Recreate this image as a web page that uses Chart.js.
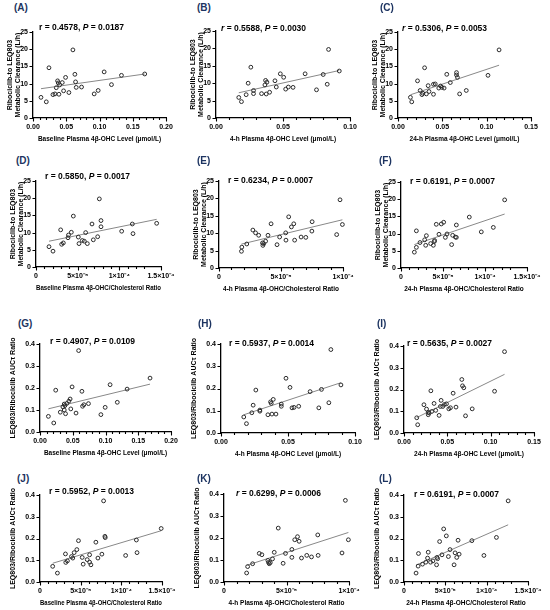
<!DOCTYPE html>
<html>
<head>
<meta charset="utf-8">
<script src="https://cdn.jsdelivr.net/npm/chart.js@4.4.0/dist/chart.umd.min.js"></script>
<style>
  body { margin: 0; background: #fff; width: 550px; height: 610px; position: relative; overflow: hidden; font-family: "Liberation Sans", Arial, sans-serif; }
  .tag { position: absolute; font-size: 10px; font-weight: bold; color: #1d3461; }
  canvas { position: absolute; }
</style>
</head>
<body>
<script>
// === Data ===
// Row 1: clearance vs plasma 4β-OHC level
const aX = [0.012, 0.020, 0.024, 0.030, 0.033, 0.035, 0.037, 0.038, 0.039, 0.040, 0.044, 0.046, 0.049, 0.054, 0.063, 0.064, 0.065, 0.060, 0.073, 0.092, 0.098, 0.107, 0.118, 0.133, 0.168];
const aY = [6.0, 4.7, 14.6, 6.8, 7.0, 8.8, 10.8, 10.2, 6.9, 9.6, 10.3, 7.9, 11.8, 7.4, 12.7, 10.5, 8.9, 19.8, 9.0, 7.0, 8.0, 13.4, 9.7, 12.4, 12.8];
const bX = [0.017, 0.019, 0.0225, 0.024, 0.026, 0.028, 0.028, 0.034, 0.0365, 0.037, 0.0375, 0.038, 0.040, 0.044, 0.045, 0.048, 0.0505, 0.052, 0.054, 0.0575, 0.0665, 0.075, 0.080, 0.083, 0.084, 0.092];
const bY = [5.9, 4.7, 6.7, 10.0, 14.6, 7.9, 7.0, 7.0, 9.5, 10.8, 6.9, 10.3, 7.4, 10.7, 8.9, 12.7, 11.7, 8.3, 8.9, 8.8, 12.7, 8.1, 12.5, 9.7, 19.7, 13.5];
const cX = [0.014, 0.0155, 0.022, 0.025, 0.027, 0.028, 0.030, 0.032, 0.034, 0.035, 0.040, 0.040, 0.042, 0.046, 0.048, 0.0495, 0.052, 0.055, 0.059, 0.066, 0.066, 0.067, 0.0695, 0.077, 0.1015, 0.114];
const cY = [6.0, 4.7, 10.8, 8.0, 6.8, 7.2, 14.6, 7.0, 9.4, 7.7, 6.9, 9.8, 9.9, 8.7, 9.3, 8.9, 8.7, 12.7, 10.3, 13.2, 12.5, 11.8, 7.0, 8.0, 12.4, 19.8];
// Row 2: clearance vs 4β-OHC/cholesterol ratio
const dX = [1.56e-5, 2.04e-5, 2.96e-5, 3.08e-5, 3.28e-5, 3.84e-5, 3.9e-5, 4.24e-5, 4.48e-5, 5.08e-5, 5.16e-5, 5.56e-5, 5.8e-5, 5.96e-5, 6.16e-5, 6.72e-5, 6.88e-5, 7.4e-5, 7.6e-5, 7.8e-5, 7.8e-5, 10.28e-5, 11.56e-5, 11.64e-5, 14.48e-5];
const dY = [5.9, 4.6, 10.8, 6.6, 7.0, 8.5, 9.3, 10.1, 14.8, 8.7, 6.8, 7.7, 7.5, 10.0, 6.8, 12.5, 7.9, 8.8, 19.8, 13.5, 11.7, 10.4, 12.5, 9.7, 12.7];
const eX = [1.81e-5, 1.84e-5, 2.24e-5, 2.73e-5, 2.95e-5, 3.2e-5, 3.51e-5, 3.54e-5, 3.6e-5, 3.76e-5, 3.95e-5, 4.2e-5, 4.68e-5, 4.89e-5, 5.38e-5, 5.4e-5, 5.62e-5, 5.84e-5, 6.03e-5, 6.1e-5, 6.62e-5, 7.0e-5, 7.49e-5, 7.51e-5, 9.49e-5, 9.76e-5, 9.95e-5];
const eY = [4.8, 6.0, 6.9, 10.9, 10.1, 9.4, 7.2, 6.5, 7.0, 7.7, 9.4, 12.7, 6.7, 8.9, 10.1, 8.0, 14.7, 11.8, 12.7, 8.0, 8.9, 8.8, 10.6, 13.3, 9.6, 19.6, 12.5];
const fX = [1.59e-5, 1.83e-5, 1.83e-5, 2.26e-5, 2.82e-5, 2.94e-5, 3.02e-5, 3.53e-5, 3.85e-5, 3.97e-5, 4.0e-5, 4.2e-5, 4.52e-5, 4.8e-5, 5.08e-5, 5.28e-5, 5.48e-5, 6.15e-5, 6.03e-5, 6.47e-5, 6.59e-5, 6.59e-5, 8.13e-5, 9.56e-5, 10.99e-5, 12.34e-5];
const fY = [4.6, 6.0, 10.8, 7.4, 8.2, 6.6, 9.4, 7.1, 6.6, 7.7, 8.0, 12.7, 9.8, 12.8, 13.3, 8.9, 9.9, 9.5, 6.8, 9.0, 8.9, 12.5, 14.8, 10.5, 11.8, 19.8];
// Row 3: AUC ratio vs plasma 4β-OHC level
const gX = [0.0128, 0.021, 0.024, 0.031, 0.035, 0.037, 0.037, 0.038, 0.039, 0.041, 0.044, 0.046, 0.047, 0.049, 0.055, 0.064, 0.065, 0.067, 0.059, 0.074, 0.093, 0.0995, 0.107, 0.118, 0.133, 0.168];
const gY = [0.071, 0.041, 0.19, 0.09, 0.114, 0.10, 0.127, 0.12, 0.083, 0.13, 0.14, 0.15, 0.105, 0.205, 0.086, 0.185, 0.117, 0.124, 0.37, 0.129, 0.079, 0.112, 0.215, 0.135, 0.195, 0.245];
const hX = [0.017, 0.019, 0.023, 0.024, 0.026, 0.029, 0.029, 0.035, 0.037, 0.0375, 0.038, 0.039, 0.041, 0.045, 0.045, 0.0485, 0.0515, 0.053, 0.0545, 0.058, 0.0665, 0.073, 0.075, 0.0805, 0.082, 0.0895];
const hY = [0.072, 0.042, 0.091, 0.125, 0.193, 0.098, 0.103, 0.082, 0.14, 0.133, 0.085, 0.151, 0.085, 0.12, 0.13, 0.246, 0.205, 0.113, 0.115, 0.12, 0.186, 0.113, 0.196, 0.136, 0.375, 0.216];
const iX = [0.0147, 0.0158, 0.023, 0.026, 0.028, 0.028, 0.029, 0.031, 0.032, 0.0347, 0.0366, 0.0405, 0.042, 0.0428, 0.0447, 0.0467, 0.049, 0.0517, 0.0536, 0.0567, 0.060, 0.0667, 0.0675, 0.069, 0.071, 0.0787, 0.1045, 0.116];
const iY = [0.070, 0.038, 0.13, 0.11, 0.084, 0.095, 0.092, 0.194, 0.099, 0.136, 0.104, 0.081, 0.122, 0.15, 0.122, 0.131, 0.134, 0.111, 0.116, 0.183, 0.119, 0.246, 0.217, 0.208, 0.079, 0.111, 0.192, 0.374];
// Row 4: AUC ratio vs 4β-OHC/cholesterol ratio
const jX = [1.56e-5, 2.14e-5, 3.13e-5, 3.17e-5, 3.37e-5, 3.87e-5, 4.03e-5, 4.2e-5, 4.53e-5, 4.73e-5, 5.19e-5, 5.31e-5, 5.8e-5, 6.1e-5, 6.26e-5, 6.1e-5, 6.87e-5, 7.12e-5, 7.61e-5, 7.82e-5, 7.98e-5, 8.02e-5, 10.53e-5, 11.85e-5, 11.93e-5, 14.9e-5];
const jY = [0.072, 0.041, 0.129, 0.09, 0.097, 0.117, 0.11, 0.135, 0.149, 0.19, 0.113, 0.082, 0.103, 0.125, 0.079, 0.091, 0.183, 0.11, 0.128, 0.373, 0.21, 0.204, 0.122, 0.193, 0.135, 0.246];
const kX = [1.81e-5, 1.89e-5, 2.29e-5, 2.82e-5, 3.03e-5, 3.51e-5, 3.56e-5, 3.62e-5, 3.7e-5, 3.88e-5, 4.02e-5, 4.34e-5, 4.73e-5, 4.92e-5, 5.43e-5, 5.43e-5, 5.66e-5, 5.88e-5, 6.01e-5, 6.2e-5, 6.62e-5, 7.0e-5, 7.5e-5, 7.53e-5, 9.44e-5, 9.71e-5, 9.95e-5];
const kY = [0.041, 0.07, 0.083, 0.13, 0.124, 0.098, 0.089, 0.083, 0.088, 0.105, 0.135, 0.245, 0.085, 0.13, 0.112, 0.148, 0.192, 0.206, 0.185, 0.109, 0.121, 0.114, 0.214, 0.121, 0.132, 0.371, 0.192];
const lX = [1.46e-5, 1.71e-5, 1.75e-5, 2.24e-5, 2.64e-5, 2.85e-5, 2.93e-5, 3.21e-5, 3.5e-5, 3.94e-5, 3.98e-5, 4.07e-5, 4.31e-5, 4.59e-5, 4.8e-5, 5.12e-5, 5.37e-5, 5.57e-5, 6.06e-5, 6.18e-5, 6.38e-5, 6.54e-5, 6.67e-5, 8.21e-5, 9.67e-5, 11.18e-5, 12.6e-5];
const lY = [0.041, 0.073, 0.131, 0.082, 0.091, 0.11, 0.137, 0.091, 0.097, 0.079, 0.113, 0.107, 0.186, 0.125, 0.244, 0.212, 0.117, 0.149, 0.079, 0.134, 0.113, 0.192, 0.128, 0.19, 0.122, 0.205, 0.373];

const panelIds = ["A", "B", "C", "D", "E", "F", "G", "H", "I", "J", "K", "L"];
const rValues = ["0.4578", "0.5588", "0.5306", "0.5850", "0.6234", "0.6191", "0.4907", "0.5937", "0.5635", "0.5952", "0.6299", "0.6191"];
const pValues = ["0.0187", "0.0030", "0.0053", "0.0017", "0.0007", "0.0007", "0.0109", "0.0014", "0.0027", "0.0013", "0.0006", "0.0007"];
const rItalic = [false, true, true, false, false, false, false, false, false, false, true, false];

const xTitles = [
  "Baseline Plasma 4β-OHC Level (μmol/L)",
  "4-h Plasma 4β-OHC Level (μmol/L)",
  "24-h Plasma 4β-OHC Level (μmol/L)",
  "Baseline Plasma 4β-OHC/Cholesterol Ratio",
  "4-h Plasma 4β-OHC/Cholesterol Ratio",
  "24-h Plasma 4β-OHC/Cholesterol Ratio",
];
const clearanceTitle = ["Ribociclib-to LEQ803", "Metabolic Clearance (L/h)"];
const aucTitle = "LEQ803/Ribociclib AUCτ Ratio";

// tick labels
const levelTicks20 = ["0.00", "0.05", "0.10", "0.15", "0.20"];
const levelTicks10 = ["0.00", "0.05", "0.10"];
const levelTicks15 = ["0.00", "0.05", "0.10", "0.15"];
const ratioTicks15 = ["0", "5×10⁻⁵", "1×10⁻⁴", "1.5×10⁻⁴"];
const ratioTicks10 = ["0", "5×10⁻⁵", "1×10⁻⁴"];
const clearanceTicks = ["0", "5", "10", "15", "20", "25"];
const aucTicks = ["0.0", "0.1", "0.2", "0.3", "0.4"];

// === Layout (page pixels) ===
// plot box [left, top, right, bottom], annotation offset, tag position
const boxes = {
  A: [33, 32, 166, 118], B: [216, 31, 350, 118], C: [398, 32, 531, 118],
  D: [36, 181, 161, 267], E: [219, 181, 343, 268], F: [401, 182, 527, 268],
  G: [40, 344, 171, 432], H: [221, 344, 355, 433], I: [404, 346, 534, 433],
  J: [40, 495, 162, 582], K: [224, 494, 349, 582], L: [404, 495, 528, 582],
};
const annOffsets = {
  A: [6, -4], B: [5, -2], C: [4, -3], D: [9, -4], E: [9, 0], F: [9, 0],
  G: [10, -2], H: [8, 0], I: [3, -2], J: [9, -3], K: [12, 0], L: [10, 0],
};
const tagPos = {
  A: [14, 2], B: [197, 2], C: [380, 2], D: [16, 155], E: [197, 155], F: [379, 155],
  G: [18, 318], H: [198, 318], I: [377, 318], J: [17, 473], K: [197, 473], L: [379, 473],
};

const FONT = '"Liberation Sans", Arial, sans-serif';
const seriesX = [aX, bX, cX, dX, eX, fX, gX, hX, iX, jX, kX, lX];
const seriesY = [aY, bY, cY, dY, eY, fY, gY, hY, iY, jY, kY, lY];
const xTickSets = [levelTicks20, levelTicks10, levelTicks15, ratioTicks15, ratioTicks10, ratioTicks15];
const xMajors = [0.05, 0.05, 0.05, 5e-5, 5e-5, 5e-5];

function fitLine(xs, ys) {
  const n = xs.length;
  const mx = xs.reduce((a, b) => a + b, 0) / n;
  const my = ys.reduce((a, b) => a + b, 0) / n;
  let sxy = 0, sxx = 0;
  xs.forEach((x, i) => {
    sxy += (x - mx) * (ys[i] - my);
    sxx += (x - mx) * (x - mx);
  });
  const slope = sxy / sxx;
  const x0 = Math.min(...xs), x1 = Math.max(...xs);
  return [
    { x: x0, y: my + slope * (x0 - mx) },
    { x: x1, y: my + slope * (x1 - mx) },
  ];
}

function isMajor(v, major) {
  const k = v / major;
  return Math.abs(k - Math.round(k)) < 1e-6;
}

function majorLabel(v, major, labels) {
  if (!isMajor(v, major)) return "";
  return labels[Math.round(v / major)] ?? "";
}

// r / P text above each plot
function annotationPlugin(idx, off) {
  return {
    id: "rLabel",
    afterDraw(chart) {
      const { ctx, chartArea } = chart;
      const parts = [
        [rItalic[idx] ? "italic bold" : "bold", "r"],
        ["bold", " = " + rValues[idx] + ", "],
        ["italic bold", "P"],
        ["bold", " = " + pValues[idx]],
      ];
      let x = chartArea.left + off[0];
      const y = chartArea.top + off[1];
      ctx.save();
      ctx.fillStyle = "#000";
      ctx.textBaseline = "middle";
      parts.forEach(([style, txt]) => {
        ctx.font = style + " 8.5px " + FONT;
        ctx.fillText(txt, x, y);
        x += ctx.measureText(txt).width;
      });
      ctx.restore();
    },
  };
}

// outward tick marks, major longer than minor (GraphPad look)
const tickMarks = {
  id: "tickMarks",
  afterDraw(chart) {
    const { ctx } = chart;
    const xs = chart.scales.x, ys = chart.scales.y;
    const xMajor = chart.options.scales.x.ticks.stepSize * 5;
    ctx.save();
    ctx.strokeStyle = "#000";
    ctx.lineWidth = 1.1;
    ctx.beginPath();
    xs.ticks.forEach((t) => {
      const px = Math.round(xs.getPixelForValue(t.value)) + 0.5;
      const len = isMajor(t.value, xMajor) ? 3.5 : 2;
      ctx.moveTo(px, xs.top);
      ctx.lineTo(px, xs.top + len);
    });
    ys.ticks.forEach((t) => {
      const py = Math.round(ys.getPixelForValue(t.value)) + 0.5;
      ctx.moveTo(ys.right, py);
      ctx.lineTo(ys.right - 3.5, py);
    });
    ctx.stroke();
    ctx.restore();
  },
};

panelIds.forEach((id, idx) => {
  const col = idx % 3;
  const isAuc = idx >= 6;
  const xKind = (idx % 6 >= 3 ? 3 : 0) + col;
  const xLabels = xTickSets[xKind];
  const xMajor = xMajors[xKind];
  const yLabels = isAuc ? aucTicks : clearanceTicks;
  const yMajor = isAuc ? 0.1 : 5;
  const yw = isAuc ? 40 : 33;
  const [L, T, R, B] = boxes[id];

  const tag = document.createElement("div");
  tag.className = "tag";
  tag.textContent = "(" + id + ")";
  tag.style.left = tagPos[id][0] + "px";
  tag.style.top = tagPos[id][1] + "px";
  document.body.appendChild(tag);

  const canvas = document.createElement("canvas");
  const w = R - L + yw + 18;
  const h = B - T + 12 + 26;
  canvas.width = w;
  canvas.height = h;
  canvas.style.width = w + "px";
  canvas.style.height = h + "px";
  canvas.style.left = L - yw + "px";
  canvas.style.top = T - 12 + "px";
  document.body.appendChild(canvas);

  const xs = seriesX[idx], ys = seriesY[idx];
  const tickFont = { family: FONT, size: 7, weight: "bold" };

  new Chart(canvas, {
    type: "scatter",
    data: {
      datasets: [
        {
          type: "line",
          data: fitLine(xs, ys),
          borderColor: "#888",
          borderWidth: 1,
          pointRadius: 0,
          fill: false,
          order: 2,
        },
        {
          data: xs.map((x, i) => ({ x: x, y: ys[i] })),
          pointRadius: 1.9,
          pointBorderWidth: 1,
          borderColor: "#2a2a2a",
          backgroundColor: "rgba(255,255,255,0)",
          clip: false,
          order: 1,
        },
      ],
    },
    options: {
      responsive: false,
      animation: false,
      layout: { padding: { top: 12, right: 18, left: 0, bottom: 0 } },
      plugins: { legend: { display: false }, tooltip: { enabled: false } },
      scales: {
        x: {
          type: "linear",
          min: 0,
          max: xMajor * (xLabels.length - 1),
          afterFit: (s) => { s.height = 26; },
          border: { display: true, color: "#000", width: 1.3 },
          grid: { drawOnChartArea: false, drawTicks: true, tickLength: 3, tickColor: "rgba(0,0,0,0)" },
          ticks: {
            stepSize: xMajor / 5,
            autoSkip: false,
            maxRotation: 0,
            padding: 1.5,
            color: "#000",
            font: tickFont,
            callback: (v) => majorLabel(v, xMajor, xLabels),
          },
          title: {
            display: true,
            text: xTitles[idx % 6],
            color: "#000",
            font: { family: FONT, size: 6.5, weight: "bold" },
            padding: { top: 0, bottom: 1 },
          },
        },
        y: {
          type: "linear",
          min: 0,
          max: yMajor * (yLabels.length - 1),
          afterFit: (s) => { s.width = yw; },
          border: { display: true, color: "#000", width: 1.3 },
          grid: { drawOnChartArea: false, drawTicks: true, tickLength: 3, tickColor: "rgba(0,0,0,0)" },
          ticks: {
            stepSize: yMajor,
            autoSkip: false,
            padding: 2,
            color: "#000",
            font: tickFont,
            callback: (v) => majorLabel(v, yMajor, yLabels),
          },
          title: {
            display: true,
            text: isAuc ? aucTitle : clearanceTitle,
            color: "#000",
            font: { family: FONT, size: 7, weight: "bold", lineHeight: 1.15 },
            padding: { top: isAuc ? 9 : 6, bottom: 0 },
          },
        },
      },
    },
    plugins: [tickMarks, annotationPlugin(idx, annOffsets[id])],
  });
});
</script>
</body>
</html>
